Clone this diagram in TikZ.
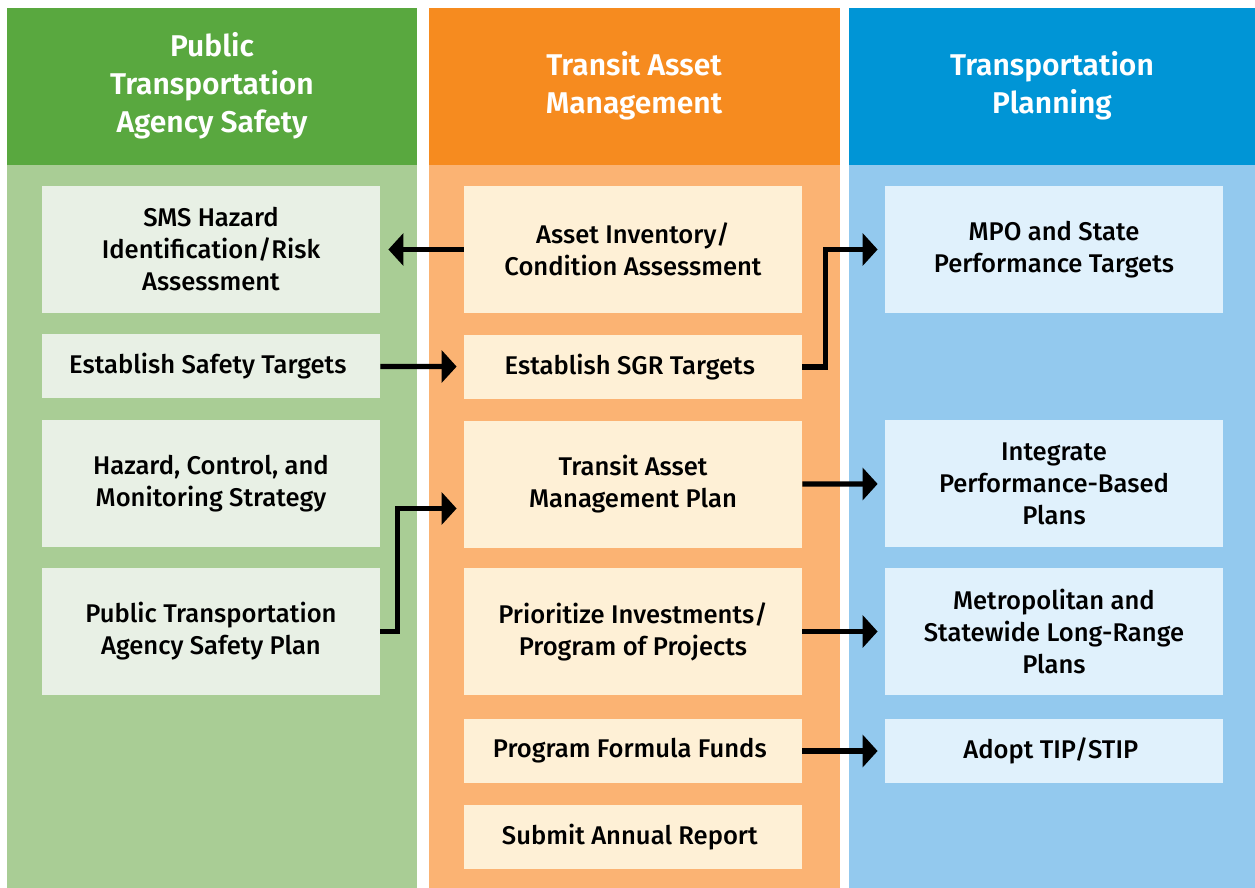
\documentclass[tikz,border=0pt]{standalone}
\usepackage{fontspec}
\setmainfont{Fira Sans}[UprightFont={* Medium}, BoldFont={* SemiBold}]
\usepackage{tikz}
\usetikzlibrary{arrows.meta}
\definecolor{safeDark}{HTML}{59A83F}
\definecolor{safeBody}{HTML}{A9CD95}
\definecolor{safeBox}{HTML}{E8F0E5}
\definecolor{tamDark}{HTML}{F68B1F}
\definecolor{tamBody}{HTML}{FBB373}
\definecolor{tamBox}{HTML}{FEF0D6}
\definecolor{planDark}{HTML}{0095D6}
\definecolor{planBody}{HTML}{93C9EE}
\definecolor{planBox}{HTML}{E0F1FC}
\tikzset{
	head/.style = { text = white, align = center,
		font = \bfseries\fontsize{15}{19}\selectfont },
	box/.style = { minimum width = 169pt, align = center, inner sep = 0pt,
		font = \fontsize{12.8}{16}\selectfont },
	tall/.style = { box, minimum height = 63.5pt },
	short/.style = { box, minimum height = 32pt },
	link/.style = { line width = 2.6pt, -{Triangle[length=7.5pt, width=16pt]},
		shorten > = 3.5pt }
}

\begin{document}
\begin{tikzpicture}[x=0.5pt, y=-0.5pt]
	\useasboundingbox (0,0) rectangle (1255,888);
	% columns
	\fill [safeDark] (7,8) rectangle (417,165);
	\fill [safeBody] (7,165) rectangle (417,888);
	\fill [tamDark] (429,8) rectangle (840,165);
	\fill [tamBody] (429,165) rectangle (840,888);
	\fill [planDark] (849,8) rectangle (1255,165);
	\fill [planBody] (849,165) rectangle (1255,888);
	\node (h1) at (212,86) [head]
		{ Public\\Transportation\\Agency Safety };
	\node (h2) at (634,86) [head]
		{ Transit Asset\\Management };
	\node (h3) at (1052,86) [head]
		{ Transportation\\Planning };
	% safety
	\node (s1) at (211,249.5) [tall, fill = safeBox]
		{ SMS Hazard\\Identification/Risk\\Assessment };
	\node (s2) at (211,366) [short, fill = safeBox]
		{ Establish Safety Targets };
	\node (s3) at (211,483.5) [tall, fill = safeBox]
		{ Hazard, Control, and\\Monitoring Strategy };
	\node (s4) at (211,631.5) [tall, fill = safeBox]
		{ Public Transportation\\Agency Safety Plan };
	% asset management
	\node (a1) at (633,249.5) [tall, fill = tamBox]
		{ Asset Inventory/\\Condition Assessment };
	\node (a2) at (633,367) [short, fill = tamBox]
		{ Establish SGR Targets };
	\node (a3) at (633,484.5) [tall, fill = tamBox]
		{ Transit Asset\\Management Plan };
	\node (a4) at (633,631.5) [tall, fill = tamBox]
		{ Prioritize Investments/\\Program of Projects };
	\node (a5) at (633,751) [short, fill = tamBox]
		{ Program Formula Funds };
	\node (a6) at (633,837) [short, fill = tamBox]
		{ Submit Annual Report };
	% planning
	\node (p1) at (1054,249.5) [tall, fill = planBox]
		{ MPO and State\\Performance Targets };
	\node (p2) at (1054,483.5) [tall, fill = planBox]
		{ Integrate\\Performance-Based\\Plans };
	\node (p3) at (1054,631.5) [tall, fill = planBox]
		{ Metropolitan and\\Statewide Long-Range\\Plans };
	\node (p4) at (1054,751) [short, fill = planBox]
		{ Adopt TIP/STIP };
	% links
	\draw [link, shorten > = 4pt] (a1) to (s1);
	\draw [link] (s2) to (a2);
	\draw [link] (a2.east) -- ++(23,0) |- (p1.west);
	\draw [link] (s4.east) -- ++(17,0) |- ([yshift=-12pt]a3.west);
	\draw [link] (a3) to (p2);
	\draw [link] (a4) to (p3);
	\draw [link] (a5) to (p4);
\end{tikzpicture}
\end{document}
